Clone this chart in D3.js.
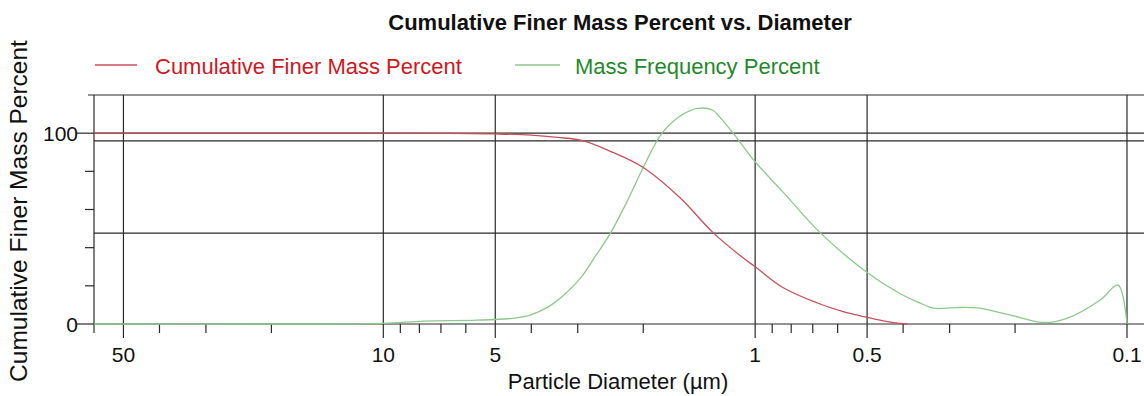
<!DOCTYPE html>
<html>
<head>
<meta charset="utf-8">
<script src="https://cdn.jsdelivr.net/npm/d3@7"></script>
<style>
  html, body { margin: 0; padding: 0; background: #ffffff; }
  svg { display: block; }
  text { font-family: "Liberation Sans", Arial, sans-serif; }
</style>
</head>
<body>
<svg id="chart" width="1144" height="396"></svg>
<script>
// ---- data ----
const cumDiam   = [60, 30, 15, 10, 7, 5, 4, 3.4, 2.9, 2.45, 2.0, 1.59, 1.30, 1.10, 1.0, 0.84, 0.68, 0.58, 0.5, 0.44, 0.408, 0.39];
const cumValues = [100, 100, 100, 100, 99.9, 99.6, 99, 97.8, 96, 90.5, 82, 66, 48, 36, 30, 19, 11, 6.5, 3.5, 1.2, 0.3, 0];

const freqDiam   = [60, 20, 10, 7.8, 5.6, 4.5, 4.03, 3.6, 3.34, 2.95, 2.7, 2.45, 2.2, 2.0, 1.78, 1.59, 1.43, 1.30, 1.24, 1.146, 1.0, 0.84, 0.67, 0.5, 0.408, 0.36, 0.332, 0.29, 0.253, 0.206, 0.168, 0.145, 0.118, 0.1057, 0.1];
const freqValues = [0, 0, 0.3, 1.5, 2, 3, 4.7, 9, 13.6, 24, 35, 47.6, 65, 82, 100, 109, 113, 112, 108, 100, 85, 69, 48, 27, 16, 11, 8.3, 8.6, 8.4, 4.7, 0.8, 3, 12.6, 20.4, 0];

const xMajorTicks = [50, 10, 5, 1, 0.5, 0.1];
const xTickLabels = ["50", "10", "5", "1", "0.5", "0.1"];
const xMinorTicks = [40, 30, 20, 9, 8, 7, 6, 4, 3, 2, 0.9, 0.8, 0.7, 0.6, 0.4, 0.3, 0.2];
const yMajorTicks = [0, 100];
const yMinorTicks = [20, 40, 60, 80];
const yGridValues = [100, 96, 47.6];

const titleText = "Cumulative Finer Mass Percent vs. Diameter";
const seriesNames = ["Cumulative Finer Mass Percent", "Mass Frequency Percent"];
const xLabel = "Particle Diameter (µm)";
const yLabel = "Cumulative Finer Mass Percent";

// ---- layout ----
const svg = d3.select("#chart");
const pLeft = 94, pRight = 1144, pTop = 95, pBottom = 324;
const x = d3.scaleLog().domain([60, 0.09]).range([pLeft, pRight]);
const y = d3.scaleLinear().domain([0, 120]).range([pBottom, pTop]);

const gridColor = "#2a2a2a";
const redLine = "#c8505a", greenLine = "#8cc98c";
const redText = "#d0161e", greenText = "#1f8a2a";

const g = svg.append("g");
// horizontal grid lines
g.selectAll("line.hgrid").data(yGridValues).join("line")
  .attr("x1", pLeft).attr("x2", pRight)
  .attr("y1", d => y(d)).attr("y2", d => y(d))
  .attr("stroke", gridColor).attr("stroke-width", 1.2);
// top border
g.append("line").attr("x1", pLeft - 6).attr("x2", pRight).attr("y1", y(120)).attr("y2", y(120))
  .attr("stroke", gridColor).attr("stroke-width", 1.2);
// left border (y-axis)
g.append("line").attr("x1", pLeft).attr("x2", pLeft).attr("y1", y(120)).attr("y2", pBottom + 9)
  .attr("stroke", gridColor).attr("stroke-width", 1.2);
// vertical major grid lines
g.selectAll("line.vgrid").data(xMajorTicks).join("line")
  .attr("x1", d => x(d)).attr("x2", d => x(d))
  .attr("y1", y(120)).attr("y2", pBottom + 14)
  .attr("stroke", gridColor).attr("stroke-width", 1.2);
// x-axis line
g.append("line").attr("x1", pLeft).attr("x2", pRight).attr("y1", y(0)).attr("y2", y(0))
  .attr("stroke", gridColor).attr("stroke-width", 1.2);
// x minor ticks
g.selectAll("line.xminor").data(xMinorTicks).join("line")
  .attr("x1", d => x(d)).attr("x2", d => x(d))
  .attr("y1", y(0)).attr("y2", y(0) + 9)
  .attr("stroke", gridColor).attr("stroke-width", 1.2);
// y major ticks
g.selectAll("line.ymajor").data(yMajorTicks).join("line")
  .attr("x1", pLeft - 17).attr("x2", pLeft)
  .attr("y1", d => y(d)).attr("y2", d => y(d))
  .attr("stroke", gridColor).attr("stroke-width", 1.2);
// y minor ticks
g.selectAll("line.yminor").data(yMinorTicks).join("line")
  .attr("x1", pLeft - 9).attr("x2", pLeft)
  .attr("y1", d => y(d)).attr("y2", d => y(d))
  .attr("stroke", gridColor).attr("stroke-width", 1.2);

// tick labels
svg.selectAll("text.xtl").data(xMajorTicks).join("text")
  .attr("x", d => x(d)).attr("y", 362)
  .attr("text-anchor", "middle").attr("font-size", 21).attr("fill", "#111")
  .text((d, i) => xTickLabels[i]);
svg.selectAll("text.ytl").data(yMajorTicks).join("text")
  .attr("x", pLeft - 16).attr("y", d => y(d)).attr("dy", "0.36em")
  .attr("text-anchor", "end").attr("font-size", 21).attr("fill", "#111")
  .text(d => d);

// curves
const line = d3.line().x(d => x(d[0])).y(d => y(d[1])).curve(d3.curveCatmullRom.alpha(0.5));
const cumData = cumDiam.map((d, i) => [d, cumValues[i]]);
const freqData = freqDiam.map((d, i) => [d, freqValues[i]]);
svg.append("path").datum(freqData).attr("d", line)
  .attr("fill", "none").attr("stroke", greenLine).attr("stroke-width", 1.3);
svg.append("path").datum(cumData).attr("d", line)
  .attr("fill", "none").attr("stroke", redLine).attr("stroke-width", 1.3);

// title
svg.append("text").attr("x", 620).attr("y", 30).attr("text-anchor", "middle")
  .attr("font-size", 22).attr("font-weight", "bold").attr("fill", "#111")
  .text(titleText);

// legend
const legend = [
  { name: seriesNames[0], line: redLine, text: redText, x1: 95, x2: 137, tx: 155 },
  { name: seriesNames[1], line: greenLine, text: greenText, x1: 515, x2: 560, tx: 575 }
];
legend.forEach(l => {
  svg.append("line").attr("x1", l.x1).attr("x2", l.x2).attr("y1", 65).attr("y2", 65)
    .attr("stroke", l.line).attr("stroke-width", 1.3);
  svg.append("text").attr("x", l.tx).attr("y", 74).attr("font-size", 22)
    .attr("fill", l.text).text(l.name);
});

// axis titles
svg.append("text").attr("x", 618).attr("y", 389).attr("text-anchor", "middle")
  .attr("font-size", 22).attr("fill", "#111").text(xLabel);
svg.append("text").attr("transform", "translate(27,211) rotate(-90)")
  .attr("text-anchor", "middle").attr("font-size", 24.5).attr("fill", "#111").text(yLabel);
</script>
</body>
</html>
